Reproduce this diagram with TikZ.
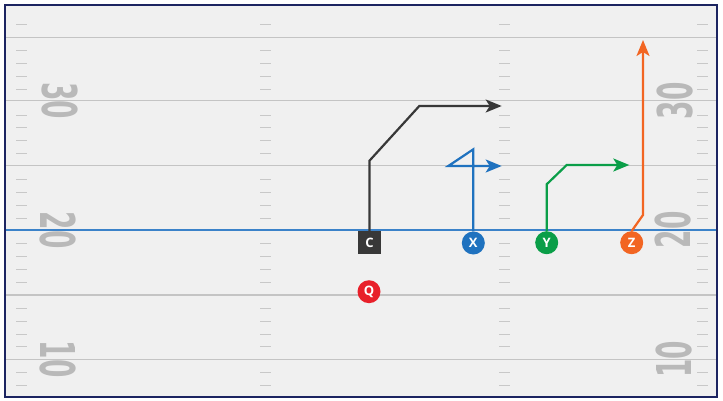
\documentclass[tikz,border=0pt]{standalone}
\usepackage{fontspec}
\setsansfont{Open Sans}
\newfontfamily\numfont{DejaVu Sans}
\usepackage{tikz}
\usetikzlibrary{arrows.meta}
\usetikzlibrary{positioning}
\definecolor{fieldbg}{HTML}{F0F0F0}
\definecolor{framecol}{HTML}{1C2461}
\definecolor{yardcol}{HTML}{C4C4C4}
\definecolor{tickcol}{HTML}{C8C8C8}
\definecolor{numcol}{HTML}{B9B9B9}
\definecolor{loscol}{HTML}{3B82C9}
\definecolor{cdark}{HTML}{383838}
\definecolor{xblue}{HTML}{1F72BF}
\definecolor{ygreen}{HTML}{0A9E48}
\definecolor{zorange}{HTML}{F26522}
\definecolor{qred}{HTML}{E8202A}
\newcommand{\yardnum}[1]{\scalebox{0.55}[1]{#1}}

\begin{document}
\begin{tikzpicture}[x=1pt,y=-1pt,
yard/.style={draw=yardcol, line width=1.2pt},
hash/.style={draw=tickcol, line width=1pt},
num/.style={text=numcol, inner sep=0pt, font=\numfont\bfseries\fontsize{48}{48}\selectfont},
player/.style={circle, minimum size=23pt, inner sep=0pt, text=white, font=\sffamily\bfseries\fontsize{13}{13}\selectfont},
center/.style={player, rectangle},
route/.style={line width=2.2pt, -{Stealth[length=16pt,width=13pt,inset=4pt]}}]
\useasboundingbox (0,0) rectangle (723,401);
\fill[fieldbg] (5,5) rectangle (717,397);
\foreach \yy in {37.3,100.7,165.7,295,359.3}
  \draw[yard] (5,\yy) -- (717,\yy);
\draw[draw=loscol, line width=1.1pt] (5,230) -- (717,230);
\foreach \k in {-1,...,27}{
  \pgfmathtruncatemacro{\rem}{mod(\k+5,5)}
  \ifnum\rem>0
    \foreach \cx in {16,260,499,697}
      \draw[hash] (\cx,{round(37.3+12.88*\k)+0.5}) -- ++(10.5,0);
  \fi
}
\node[num, rotate=-90] (l30) at (60,100.7) {\yardnum{30}};
\node[num, rotate=-90] (l20) at (58,230) {\yardnum{20}};
\node[num, rotate=-90] (l10) at (58,359.3) {\yardnum{10}};
\node[num, rotate=90] (r30) at (675,100.7) {\yardnum{30}};
\node[num, rotate=90] (r20) at (673,230) {\yardnum{20}};
\node[num, rotate=90] (r10) at (674,359.3) {\yardnum{10}};
\draw[framecol, line width=1.3pt] (5,5) rectangle (717,397);

\node[center, fill=cdark] (C) at (369.5,242.5) {C};
\node[player, fill=xblue] (X) at (473.3,243) {X};
\node[player, fill=ygreen] (Y) at (546.7,242.7) {Y};
\node[player, fill=zorange] (Z) at (631.7,242.7) {Z};
\node[player, fill=qred] (Q) at (369,291.7) {Q};

\coordinate (cUp) at (369.5,160.7);
\coordinate (cBreak) at (419.3,106);
\coordinate (cEnd) at (501.7,106);
\coordinate (xUp) at (473.3,149.3);
\coordinate (xBack) at (448.3,166);
\coordinate (xEnd) at (501.7,166);
\coordinate (yUp) at (546.7,184.3);
\coordinate (yBreak) at (566.7,165);
\coordinate (yEnd) at (629.3,165);
\coordinate (zOut) at (643,215);
\coordinate (zEnd) at (643,40);

\draw[route, cdark] (C.north) -- (cUp) -- (cBreak) -- (cEnd);
\draw[route, xblue] (X.north) -- (xUp) -- (xBack) -- (xEnd);
\draw[route, ygreen] (Y.north) -- (yUp) -- (yBreak) -- (yEnd);
\draw[route, zorange] (Z.north) -- (zOut) -- (zEnd);
\end{tikzpicture}
\end{document}
